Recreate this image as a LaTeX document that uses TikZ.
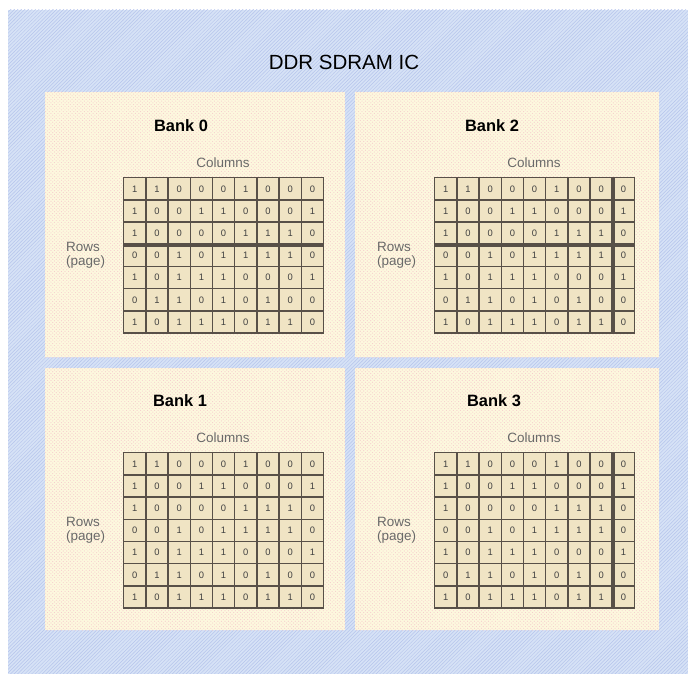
\documentclass[tikz,border=0pt]{standalone}
\usepackage{fontspec}
\setmainfont{Liberation Sans}
\usetikzlibrary{patterns}
\definecolor{ChipBlue}{RGB}{214,226,246}
\definecolor{ChipHatch}{RGB}{182,196,236}
\definecolor{BankCream}{RGB}{253,248,222}
\definecolor{BankDots}{RGB}{246,205,205}
\definecolor{CellTan}{RGB}{240,228,196}
\definecolor{GridBrown}{RGB}{88,80,72}
\definecolor{LabelGray}{RGB}{105,105,105}
\tikzset{
  chip/.style={fill=ChipBlue,postaction={pattern=north east lines,pattern color=ChipHatch}},
  bank/.style={fill=BankCream,postaction={pattern=crosshatch dots,pattern color=BankDots}},
  cell/.style={draw=GridBrown,fill=CellTan,line width=1.2pt,minimum width=0.666cm,minimum height=0.666cm,
    inner sep=0pt,anchor=north west,font=\fontsize{8}{9}\selectfont,text=black!75},
}
\tikzset{chiptitle/.style={font=\fontsize{17.5}{20}\selectfont}, banktitle/.style={font=\fontsize{14}{16}\selectfont\bfseries},axlab/.style={text=LabelGray,inner sep=0pt,font=\fontsize{11.5}{12}\selectfont},openline/.style={draw=GridBrown,line width=2.6pt}}

\begin{document}
\begin{tikzpicture}[x=0.03cm,y=-0.03cm]
\useasboundingbox (0,0) rectangle (688,674);
\path[chip] (8,10) rectangle (688,674);
\node[chiptitle] (ic) at (344,62) {DDR SDRAM IC};
% four banks, same bit pattern in each
\foreach \b/\px/\py/\qx/\qy/\gx/\gy/\tx in {0/45/92/345/357/123/177/181,2/355/92/659/357/434/177/492,1/45/368/345/630/123/452/180,3/355/368/659/630/434/452/494}{
  \path[bank] (\px,\py) rectangle (\qx,\qy);
  \node[banktitle] (t\b) at (\tx,\gy-51) {Bank \b};
  \node[axlab] (c\b) at (\gx+100,\gy-14) {Columns};
  \node[axlab,anchor=west,align=left] (r\b) at (\gx-57,\gy+78) {Rows\\(page)};
  \foreach \bits [count=\r] in {{1,1,0,0,0,1,0,0,0},{1,0,0,1,1,0,0,0,1},{1,0,0,0,0,1,1,1,0},{0,0,1,0,1,1,1,1,0},{1,0,1,1,1,0,0,0,1},{0,1,1,0,1,0,1,0,0},{1,0,1,1,1,0,1,1,0}}
    \foreach \v [count=\c] in \bits
      \node[cell] (b\b-\r-\c) at (\gx+22.2*\c-22.2,\gy+22.2*\r-22.2) {\v};
}
% open row / column
\draw[openline] (b0-3-1.south west) -- (b0-3-9.south east);
\draw[openline] (b2-3-1.south west) -- (b2-3-9.south east);
\draw[openline] (b2-1-8.north east) -- (b2-7-8.south east);
\draw[openline] (b3-1-8.north east) -- (b3-7-8.south east);
\end{tikzpicture}
\end{document}
